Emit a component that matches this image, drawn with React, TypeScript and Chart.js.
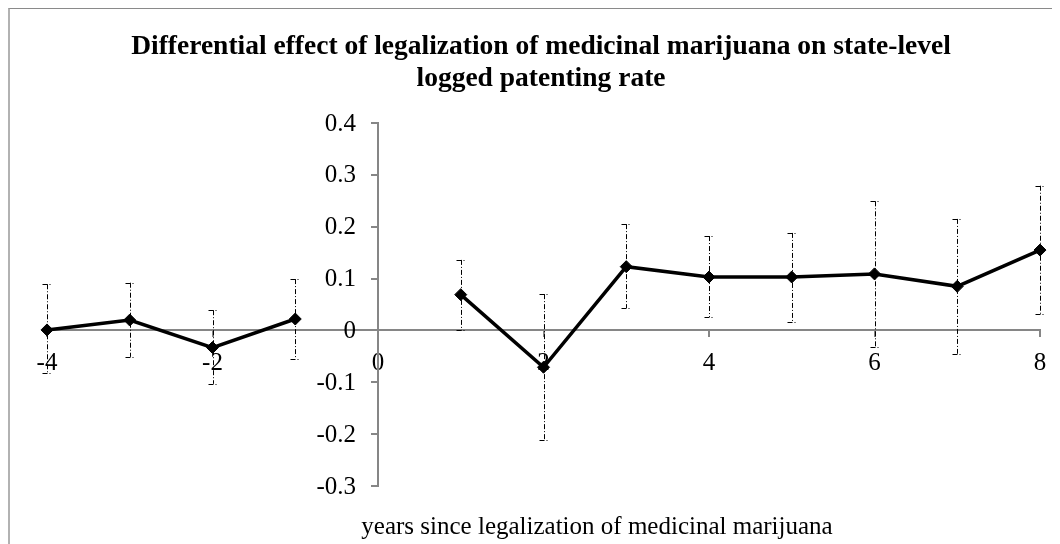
import React, { useEffect, useRef } from "react";
import { Chart, registerables } from "chart.js";

Chart.register(...registerables);

const titleLines = [
  "Differential effect of legalization of medicinal marijuana on state-level",
  "logged patenting rate",
];
const xAxisTitle = "years since legalization of medicinal marijuana";

// years since legalization (0 has no estimate -> gap in the line)
const years = [-4, -3, -2, -1, 0, 1, 2, 3, 4, 5, 6, 7, 8];
const coef = [0.001, 0.02, -0.033, 0.022, null, 0.069, -0.071, 0.123, 0.103, 0.103, 0.109, 0.085, 0.155];
const upper = [0.089, 0.092, 0.039, 0.099, null, 0.136, 0.07, 0.205, 0.182, 0.188, 0.249, 0.215, 0.279];
const lower = [-0.083, -0.051, -0.103, -0.055, null, 0.0, -0.211, 0.043, 0.026, 0.017, -0.031, -0.045, 0.032];

const xTicks = { min: -4, max: 8, step: 2 };
const yTicks = { min: -0.3, max: 0.4, step: 0.1 };

const FONT = '"Liberation Serif", "Times New Roman", serif';
const AXIS = "#868686";
const fmtY = (v: number) => String(Number(Number(v).toFixed(1)));

const errorBarPlugin = {
  id: "errorBars",
  beforeDatasetsDraw(chart: any) {
    const { ctx, scales } = chart;
    const xs = scales.x;
    const ys = scales.y;
    ctx.save();
    ctx.strokeStyle = "#000";
    ctx.lineWidth = 1;
    ctx.setLineDash([5, 2, 1, 2]);
    years.forEach((yr, i) => {
      const hi = upper[i];
      const lo = lower[i];
      if (hi === null || lo === null) return;
      const px = Math.round(xs.getPixelForValue(yr)) + 0.5;
      const pTop = ys.getPixelForValue(hi);
      const pBot = ys.getPixelForValue(lo);
      ctx.beginPath();
      ctx.moveTo(px, pTop);
      ctx.lineTo(px, pBot);
      ctx.stroke();
      ctx.beginPath();
      ctx.moveTo(px - 5, Math.round(pTop) + 0.5);
      ctx.lineTo(px + 5, Math.round(pTop) + 0.5);
      ctx.stroke();
      ctx.beginPath();
      ctx.moveTo(px - 5, Math.round(pBot) + 0.5);
      ctx.lineTo(px + 5, Math.round(pBot) + 0.5);
      ctx.stroke();
    });
    ctx.restore();
  },
};

const textPlugin = {
  id: "texts",
  afterDraw(chart: any) {
    const { ctx, scales } = chart;
    ctx.save();
    ctx.fillStyle = "#000";
    // y tick labels, left of the y axis that crosses at x = 0
    const axisX = scales.x.getPixelForValue(0);
    ctx.font = `25px ${FONT}`;
    ctx.textAlign = "right";
    ctx.textBaseline = "middle";
    scales.y.ticks.forEach((t: any) => {
      ctx.fillText(fmtY(t.value), axisX - 22, scales.y.getPixelForValue(t.value) + 1);
    });
    ctx.textAlign = "center";
    ctx.textBaseline = "alphabetic";
    ctx.font = `bold 27.5px ${FONT}`;
    ctx.fillText(titleLines[0], 531, 45);
    ctx.fillText(titleLines[1], 531, 77);
    ctx.font = `25px ${FONT}`;
    ctx.fillText(xAxisTitle, 587, 525);
    ctx.restore();
  },
};

export default function App() {
  const ref = useRef<HTMLCanvasElement | null>(null);

  useEffect(() => {
    document.documentElement.style.overflow = "hidden";
    document.body.style.overflow = "hidden";
    if (!ref.current) return;
    const data = years.map((x, i) => ({ x, y: coef[i] }));
    const chart = new Chart(ref.current, {
      type: "scatter",
      data: {
        datasets: [
          {
            data: data as any,
            showLine: true,
            borderColor: "#000",
            backgroundColor: "#000",
            borderWidth: 3.5,
            pointStyle: "rectRot",
            pointRadius: 6,
            pointBorderWidth: 1,
            pointHoverRadius: 6,
            spanGaps: false,
            clip: false as any,
          },
        ],
      },
      options: {
        animation: false,
        responsive: false,
        devicePixelRatio: 1,
        events: [],
        layout: { padding: { left: 37, right: 26, top: 114, bottom: 70 } },
        plugins: {
          legend: { display: false },
          tooltip: { enabled: false },
          title: { display: false },
        },
        scales: {
          x: {
            type: "linear",
            position: { y: 0 } as any,
            min: xTicks.min,
            max: xTicks.max,
            ticks: {
              stepSize: xTicks.step,
              color: "#000",
              font: { family: FONT, size: 25 },
              padding: 12,
              maxRotation: 0,
            },
            grid: {
              drawOnChartArea: false,
              drawTicks: true,
              tickLength: 6,
              color: AXIS,
              lineWidth: 2,
            },
            border: { color: AXIS, width: 2 },
          },
          y: {
            type: "linear",
            position: { x: 0 } as any,
            min: yTicks.min,
            max: yTicks.max,
            ticks: {
              stepSize: yTicks.step,
              display: false,
              callback: (v: any) => fmtY(v),
            },
            grid: {
              drawOnChartArea: false,
              drawTicks: true,
              tickLength: 6,
              color: AXIS,
              lineWidth: 2,
            },
            border: { color: AXIS, width: 2 },
          },
        },
      },
      plugins: [errorBarPlugin, textPlugin],
    });
    return () => chart.destroy();
  }, []);

  return (
    <div
      style={{
        width: 1066,
        height: 560,
        boxSizing: "border-box",
        borderTop: "1px solid #8a8a8a",
        borderLeft: "2px solid #b2b2b2",
        background: "#fff",
      }}
    >
      <canvas ref={ref} width={1056} height={547} style={{ display: "block", width: 1056, height: 547 }} />
    </div>
  );
}
